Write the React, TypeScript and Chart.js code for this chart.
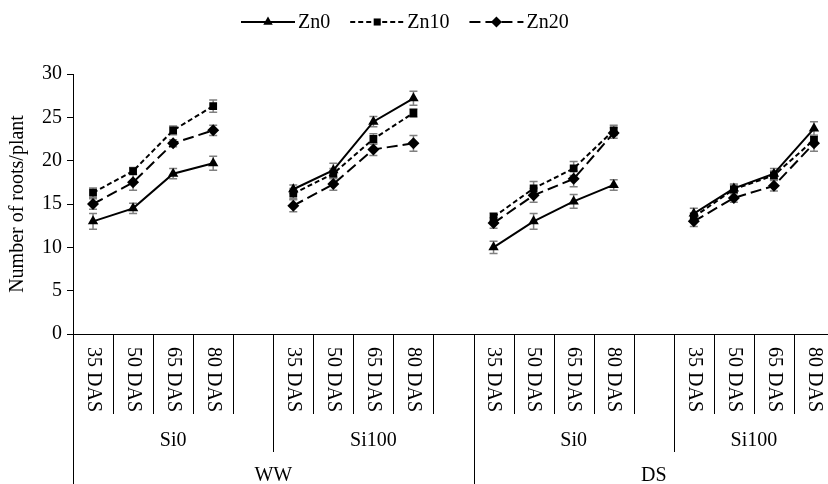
import React, { useEffect, useRef } from 'react';
import { Chart, registerables } from 'chart.js';

Chart.register(...registerables);

const FONT = '"Liberation Serif", "Times New Roman", serif';

// x categories (empty strings are gap slots between groups)
const categories = [
  '35 DAS', '50 DAS', '65 DAS', '80 DAS', '',
  '35 DAS', '50 DAS', '65 DAS', '80 DAS', '',
  '35 DAS', '50 DAS', '65 DAS', '80 DAS', '',
  '35 DAS', '50 DAS', '65 DAS', '80 DAS',
];
const siLabels = ['Si0', 'Si100', 'Si0', 'Si100'];
const siStart = [0, 5, 10, 15];
const siEnd = [4, 9, 14, 18];
const waterLabels = ['WW', 'DS'];
const waterStart = [0, 10];
const waterEnd = [9, 18];

const seriesNames = ['Zn0', 'Zn10', 'Zn20'];
const zn0 = [13.0, 14.5, 18.5, 19.7, null, 16.7, 18.9, 24.5, 27.2, null, 10.0, 13.0, 15.3, 17.2, null, 13.9, 16.8, 18.5, 23.7];
const zn10 = [16.3, 18.8, 23.5, 26.3, null, 16.2, 18.5, 22.5, 25.5, null, 13.5, 16.8, 19.1, 23.5, null, 13.5, 16.7, 18.3, 22.4];
const zn20 = [15.0, 17.5, 22.0, 23.5, null, 14.8, 17.3, 21.3, 22.0, null, 12.8, 16.0, 17.9, 23.2, null, 13.0, 15.7, 17.1, 22.0];
const err0 = [0.9, 0.6, 0.6, 0.8, null, 0.5, 0.8, 0.6, 0.8, null, 0.7, 0.9, 0.8, 0.6, null, 0.6, 0.5, 0.6, 0.8];
const err10 = [0.55, 0.4, 0.5, 0.7, null, 0.6, 0.6, 0.6, 0.5, null, 0.5, 0.8, 0.8, 0.6, null, 0.5, 0.5, 0.5, 0.5];
const err20 = [0.6, 0.9, 0.4, 0.6, null, 0.7, 0.7, 0.7, 0.9, null, 0.6, 0.8, 0.9, 0.6, null, 0.6, 0.5, 0.6, 0.9];

const yTicksMin = 0;
const yTicksMax = 30;
const yTickStep = 5;

const seriesValues = [zn0, zn10, zn20];
const seriesErrors = [err0, err10, err20];
const seriesStyles = ['triangle', 'rect', 'rectRot'];
const seriesDash = [[], [5, 3], [11, 5]];
const seriesRadius = [6, 5.5, 6];

function drawMarker(ctx: CanvasRenderingContext2D, style: string, x: number, y: number, r: number) {
  ctx.beginPath();
  if (style === 'triangle') {
    const a = -Math.PI / 2;
    for (let k = 0; k < 3; k++) {
      const ang = a + (k * 2 * Math.PI) / 3;
      const px = x + Math.cos(ang) * r;
      const py = y + Math.sin(ang) * r;
      if (k === 0) ctx.moveTo(px, py);
      else ctx.lineTo(px, py);
    }
    ctx.closePath();
  } else if (style === 'rect') {
    const s = Math.SQRT1_2 * r;
    ctx.rect(x - s, y - s, 2 * s, 2 * s);
  } else {
    ctx.moveTo(x - r, y);
    ctx.lineTo(x, y - r);
    ctx.lineTo(x + r, y);
    ctx.lineTo(x, y + r);
    ctx.closePath();
  }
  ctx.fill();
}

const errorBarPlugin = {
  id: 'errorBars',
  beforeDatasetsDraw(chart: any) {
    const ctx = chart.ctx;
    const yScale = chart.scales.y;
    ctx.save();
    ctx.strokeStyle = '#808080';
    ctx.lineWidth = 1.5;
    chart.data.datasets.forEach((ds: any, di: number) => {
      const meta = chart.getDatasetMeta(di);
      const errs = seriesErrors[di];
      ds.data.forEach((v: number | null, i: number) => {
        const e = errs[i];
        if (v == null || e == null) return;
        const x = meta.data[i].x;
        const yt = yScale.getPixelForValue(v + e);
        const yb = yScale.getPixelForValue(v - e);
        ctx.beginPath();
        ctx.moveTo(x, yt);
        ctx.lineTo(x, yb);
        ctx.moveTo(x - 4, yt);
        ctx.lineTo(x + 4, yt);
        ctx.moveTo(x - 4, yb);
        ctx.lineTo(x + 4, yb);
        ctx.stroke();
      });
    });
    ctx.restore();
  },
};

const axisPlugin = {
  id: 'multiLevelAxis',
  afterDraw(chart: any) {
    const ctx = chart.ctx;
    const xs = chart.scales.x;
    const area = chart.chartArea;
    const step = xs.getPixelForValue(1) - xs.getPixelForValue(0);
    const left = (i: number) => xs.getPixelForValue(i) - step / 2;
    const right = (i: number) => xs.getPixelForValue(i) + step / 2;
    const y0 = area.bottom;
    const vline = (x: number, a: number, b: number) => {
      const xx = Math.round(x) + 0.5;
      ctx.beginPath();
      ctx.moveTo(xx, a);
      ctx.lineTo(xx, b);
      ctx.stroke();
    };
    ctx.save();
    ctx.strokeStyle = '#000';
    ctx.lineWidth = 1;
    categories.forEach((c, i) => {
      if (!c) return;
      vline(left(i), y0, y0 + 80);
      vline(right(i), y0, y0 + 80);
    });
    siStart.forEach((s, k) => {
      vline(left(s), y0, y0 + 118);
      vline(right(siEnd[k]), y0, y0 + 118);
    });
    waterStart.forEach((s, k) => {
      vline(left(s), y0, chart.height);
      vline(right(waterEnd[k]), y0, chart.height);
    });

    ctx.fillStyle = '#000';
    ctx.font = `20px ${FONT}`;
    categories.forEach((c, i) => {
      if (!c) return;
      ctx.save();
      ctx.translate(xs.getPixelForValue(i), y0 + 13);
      ctx.rotate(Math.PI / 2);
      ctx.textAlign = 'left';
      ctx.textBaseline = 'middle';
      ctx.fillText(c, 0, 0);
      ctx.restore();
    });
    ctx.textAlign = 'center';
    ctx.textBaseline = 'middle';
    siLabels.forEach((t, k) => {
      const cx = (left(siStart[k]) + right(siEnd[k])) / 2;
      ctx.fillText(t, cx, y0 + 107);
    });
    waterLabels.forEach((t, k) => {
      const cx = (left(waterStart[k]) + right(waterEnd[k])) / 2;
      ctx.fillText(t, cx, y0 + 142);
    });

    // legend
    const ly = 22;
    let lx = 241;
    ctx.textAlign = 'left';
    seriesNames.forEach((name, k) => {
      ctx.save();
      ctx.strokeStyle = '#000';
      ctx.lineWidth = 2;
      ctx.setLineDash(seriesDash[k]);
      ctx.beginPath();
      ctx.moveTo(lx, ly);
      ctx.lineTo(lx + 54, ly);
      ctx.stroke();
      ctx.restore();
      drawMarker(ctx, seriesStyles[k], lx + 27, ly, seriesRadius[k] - 0.5);
      ctx.fillText(name, lx + 57, ly + 1);
      lx += 57 + ctx.measureText(name).width + 20;
    });
    ctx.restore();
  },
};

export default function App() {
  const ref = useRef<HTMLCanvasElement | null>(null);
  useEffect(() => {
    if (!ref.current) return;
    const chart = new Chart(ref.current, {
      type: 'line',
      data: {
        labels: categories,
        datasets: seriesNames.map((name, k) => ({
          label: name,
          data: seriesValues[k],
          borderColor: '#000',
          backgroundColor: '#000',
          borderWidth: 2,
          borderDash: seriesDash[k],
          pointStyle: seriesStyles[k] as any,
          pointRadius: seriesRadius[k],
          pointBackgroundColor: '#000',
          pointBorderColor: '#000',
          pointBorderWidth: 0,
          tension: 0,
          spanGaps: false,
        })),
      },
      options: {
        animation: false,
        responsive: false,
        devicePixelRatio: 1,
        layout: { padding: { top: 74, right: 3, left: 0, bottom: 0 } },
        plugins: { legend: { display: false }, tooltip: { enabled: false } },
        scales: {
          x: {
            type: 'category',
            offset: true,
            grid: { display: false },
            ticks: { display: false },
            border: { display: true, color: '#000', width: 1 },
            afterFit: (s: any) => {
              s.height = 150;
            },
          },
          y: {
            min: yTicksMin,
            max: yTicksMax,
            ticks: {
              stepSize: yTickStep,
              color: '#000',
              font: { family: FONT, size: 20 },
              padding: 5,
            },
            grid: { drawOnChartArea: false, drawTicks: true, tickLength: 6, color: '#000' },
            border: { display: true, color: '#000', width: 1 },
            title: {
              display: true,
              text: 'Number of roots/plant',
              color: '#000',
              font: { family: FONT, size: 20 },
              padding: { top: 6, bottom: 0 },
            },
            afterFit: (s: any) => {
              s.width = 73;
            },
          },
        },
      },
      plugins: [errorBarPlugin, axisPlugin],
    } as any);
    return () => chart.destroy();
  }, []);
  return (
    <div style={{ position: 'fixed', left: 0, top: 0, width: 828, height: 484, overflow: 'hidden', background: '#fff' }}>
      <canvas ref={ref} width={840} height={484} style={{ display: 'block' }} />
    </div>
  );
}
